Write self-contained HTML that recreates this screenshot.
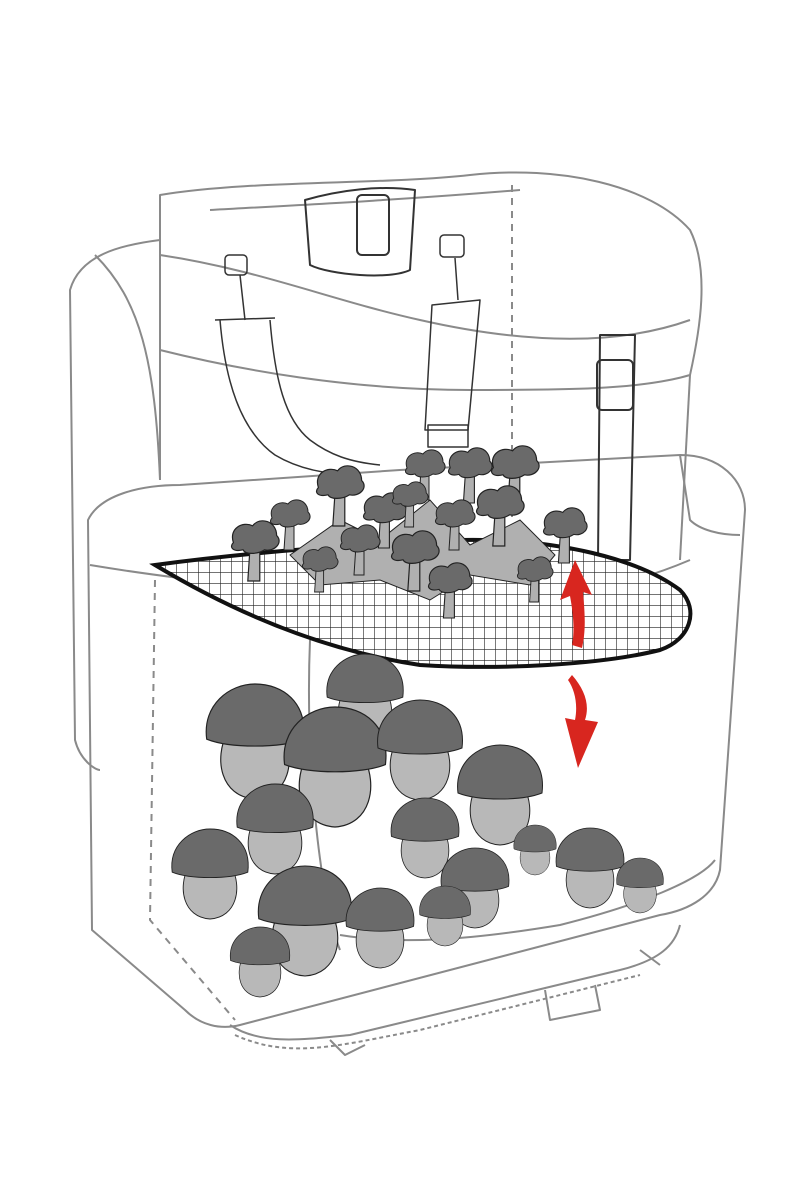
<!DOCTYPE html>
<html><head><meta charset="utf-8"><style>html,body{margin:0;padding:0;background:#fff}svg{display:block}</style></head>
<body>
<svg width="800" height="1200" viewBox="0 0 800 1200" xmlns="http://www.w3.org/2000/svg">
<defs>
<pattern id="grid" width="11" height="11" patternUnits="userSpaceOnUse">
<rect width="11" height="11" fill="#fff"/>
<path d="M0 0H11M0 0V11" stroke="#222" stroke-width="1.2"/>
</pattern>
<g id="bol">
<path d="M-24 2 C-36 25 -30 58 0 60 C30 58 36 25 24 2 Z" fill="#b8b8b8" stroke="#222" stroke-width="1"/>
<path d="M-42 8 C-46 -22 -22 -40 0 -40 C24 -40 46 -24 42 8 C22 16 -22 16 -42 8 Z" fill="#6a6a6a" stroke="#222" stroke-width="1"/>
</g>
<g id="ch">
<path d="M-4 0 L-6 30 L4 30 L4 0 Z" fill="#b0b0b0" stroke="#222" stroke-width="1"/>
<path d="M-18 -2 C-22 -14 -10 -20 -2 -16 C4 -24 18 -20 18 -8 C24 -2 16 6 8 4 C2 8 -8 8 -10 4 C-18 6 -22 2 -18 -2 Z" fill="#6a6a6a" stroke="#222" stroke-width="1"/>
</g>
</defs>
<g fill="none" stroke="#8a8a8a" stroke-width="2" stroke-linejoin="round">
<path d="M160 240 C120 245 80 255 70 290 L75 740 C80 760 95 770 100 770"/>
<path d="M95 255 C140 300 155 360 160 480"/>
<path d="M160 195 C250 180 380 185 470 175 C560 165 650 185 690 230 C710 270 700 330 690 375 C640 390 560 390 470 390 C350 390 240 370 160 350 Z"/>
<path d="M160 255 C260 270 330 300 420 320 C530 345 620 345 690 320"/>
<path d="M210 210 C300 205 400 200 520 190"/>
<path d="M160 195 L160 480"/>
<path d="M690 375 L680 560"/>
<path d="M88 520 C100 495 140 485 180 485 L400 470 L680 455 C720 455 745 480 745 510 L720 870 C715 895 690 910 660 915 L240 1025 C220 1030 200 1025 185 1010 L92 930 Z"/>
<path d="M90 565 C180 580 280 590 400 600 C520 610 620 590 690 560"/>
<path d="M680 455 L690 520 C700 530 720 535 740 535"/>
<path d="M155 580 L150 920 L235 1020" stroke-dasharray="7 6"/>
<path d="M512 185 L512 520" stroke-dasharray="7 6"/>
<path d="M310 640 C305 760 320 900 340 950" />
<path d="M310 640 C360 620 450 610 560 620"/>
<path d="M340 935 C400 945 470 940 560 925 C640 905 700 880 715 860"/>
<path d="M230 1025 C260 1045 300 1040 350 1035 L620 970 C660 960 675 945 680 925"/>
<path d="M235 1035 C290 1060 340 1045 420 1030 L640 975" stroke-dasharray="4 3"/>
<path d="M330 1040 L345 1055 L365 1045"/>
<path d="M545 990 L550 1020 L600 1010 L595 985"/>
<path d="M640 950 L660 965"/>
<path d="M305 200 L310 265 C330 275 390 280 410 270 L415 190 C380 185 340 190 305 200 Z" stroke="#333"/>
<rect x="357" y="195" width="32" height="60" rx="5" stroke="#333"/>
<path d="M600 335 L635 335 L630 560 L598 560 Z" stroke="#333"/>
<rect x="597" y="360" width="36" height="50" rx="5" stroke="#333"/>
<path d="M220 320 C225 380 240 430 275 455 C300 470 330 475 360 475" stroke="#333" stroke-width="1.5"/>
<path d="M270 320 C275 380 285 420 310 440 C330 455 350 462 380 465" stroke="#333" stroke-width="1.5"/>
<path d="M215 320 L275 318" stroke="#333" stroke-width="1.5"/>
<path d="M432 305 L480 300 L468 430 L425 430 Z" stroke="#333" stroke-width="1.5"/>
<rect x="428" y="425" width="40" height="22" stroke="#333" stroke-width="1.5"/>
<rect x="225" y="255" width="22" height="20" rx="4" stroke="#333" stroke-width="1.5"/>
<rect x="440" y="235" width="24" height="22" rx="4" stroke="#333" stroke-width="1.5"/>
<path d="M240 275 L245 320 M455 258 L458 300" stroke="#333" stroke-width="1.5"/>
</g>
<path d="M155 565 C230 555 330 545 460 540 C560 538 640 560 680 590 C700 610 690 640 660 650 C600 665 500 670 420 665 C320 650 230 610 155 565 Z" fill="url(#grid)" stroke="#111" stroke-width="4"/>
<!-- chanterelles -->
<g stroke="#222" stroke-width="1">
<path d="M290 555 L340 520 L380 540 L430 500 L470 545 L520 520 L555 555 L530 585 L470 575 L430 600 L380 580 L320 585 Z" fill="#b0b0b0"/>
</g>
<use href="#ch" transform="translate(255,545) scale(1.2)"/>
<use href="#ch" transform="translate(290,520)"/>
<use href="#ch" transform="translate(340,490) scale(1.2)"/>
<use href="#ch" transform="translate(385,515) scale(1.1)"/>
<use href="#ch" transform="translate(425,470)"/>
<use href="#ch" transform="translate(470,470) scale(1.1)"/>
<use href="#ch" transform="translate(515,470) scale(1.2)"/>
<use href="#ch" transform="translate(565,530) scale(1.1)"/>
<use href="#ch" transform="translate(415,555) scale(1.2)"/>
<use href="#ch" transform="translate(450,585) scale(1.1)"/>
<use href="#ch" transform="translate(500,510) scale(1.2)"/>
<use href="#ch" transform="translate(360,545)"/>
<use href="#ch" transform="translate(320,565) scale(0.9)"/>
<use href="#ch" transform="translate(535,575) scale(0.9)"/>
<use href="#ch" transform="translate(455,520)"/>
<use href="#ch" transform="translate(410,500) scale(0.9)"/>
<!-- boletes -->
<use href="#bol" transform="translate(255,730) scale(1.15)"/>
<use href="#bol" transform="translate(365,690) scale(0.9)"/>
<use href="#bol" transform="translate(335,755) scale(1.2)"/>
<use href="#bol" transform="translate(420,740) scale(1)"/>
<use href="#bol" transform="translate(500,785) scale(1)"/>
<use href="#bol" transform="translate(275,820) scale(0.9)"/>
<use href="#bol" transform="translate(425,830) scale(0.8)"/>
<use href="#bol" transform="translate(210,865) scale(0.9)"/>
<use href="#bol" transform="translate(305,910) scale(1.1)"/>
<use href="#bol" transform="translate(380,920) scale(0.8)"/>
<use href="#bol" transform="translate(475,880) scale(0.8)"/>
<use href="#bol" transform="translate(535,845) scale(0.5)"/>
<use href="#bol" transform="translate(590,860) scale(0.8)"/>
<use href="#bol" transform="translate(640,880) scale(0.55)"/>
<use href="#bol" transform="translate(260,955) scale(0.7)"/>
<use href="#bol" transform="translate(445,910) scale(0.6)"/>
<g fill="#d8261f">
<path d="M560 600 L575 560 L592 595 L583 592 C585 615 586 630 582 648 L572 645 C575 630 573 612 570 596 Z"/>
<path d="M572 675 C585 690 590 705 585 720 L598 722 L578 768 L565 718 L575 720 C578 705 575 690 568 680 Z"/>
</g>
</svg>
</body></html>
